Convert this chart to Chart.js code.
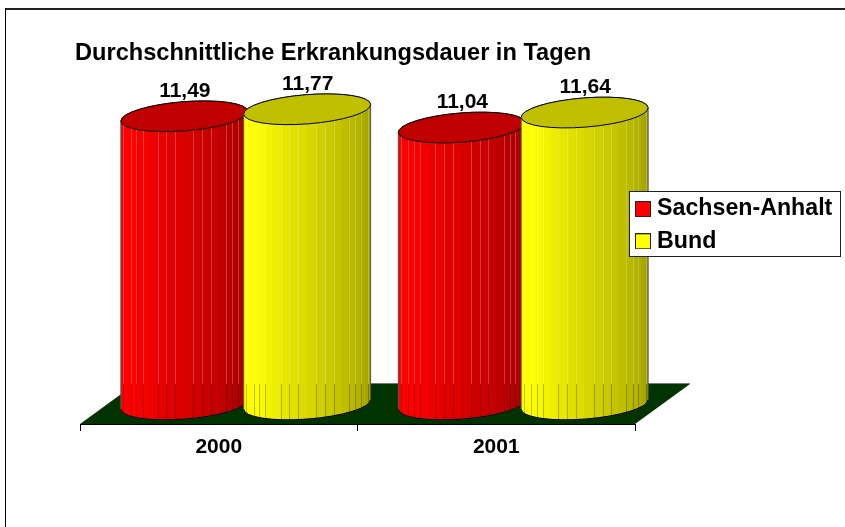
<!DOCTYPE html>
<html><head><meta charset="utf-8">
<style>html,body{margin:0;padding:0;background:#fff}canvas{display:block}</style>
<script src="https://cdn.jsdelivr.net/npm/chart.js@4"></script>
</head><body><canvas id="c" width="845" height="527"></canvas>
<script>
const categories = ['2000', '2001'];
const sachsenAnhalt = [11.49, 11.04];
const bund = [11.77, 11.64];
const chartTitle = 'Durchschnittliche Erkrankungsdauer in Tagen';
const FONT = '"Liberation Sans", Arial, sans-serif';
const DEPTH_X = 55, DEPTH_Y = 40, FACETS = 22, TILT = -4.5 * Math.PI / 180;

function rgb(hex){return [1,3,5].map(i=>parseInt(hex.substr(i,2),16));}
function shade(c,f){return 'rgb('+c.map(v=>Math.round(v*f)).join(',')+')';}

function drawCylinder(ctx, bar, color, capColor, backY){
  const cx = bar.x + DEPTH_X/2 - 0.5, rx = bar.width*1.037/2, ry = 14.6;
  const top = bar.y - DEPTH_Y/2 - 0.5, base = bar.base - DEPTH_Y/2 + 0.5;
  const t0 = Math.atan2(-ry*Math.sin(TILT), rx*Math.cos(TILT));
  const outline = () => {
    ctx.beginPath();
    ctx.ellipse(cx, base, rx, ry, TILT, t0, t0+Math.PI, false);
    ctx.ellipse(cx, top, rx, ry, TILT, t0+Math.PI, t0+2*Math.PI, false);
    ctx.closePath();
  };
  const c = rgb(color);
  ctx.save();
  outline(); ctx.clip();
  const edge = i => cx - rx*Math.cos(Math.PI*i/FACETS);
  for(let i=0;i<FACETS;i++){
    const u=(i+0.5)/FACETS, f = u<0.2?1:1-(u-0.2)*0.5;
    ctx.fillStyle = shade(c,f);
    ctx.fillRect(edge(i)-0.5, top-30, edge(i+1)-edge(i)+1, base-top+60);
  }
  for(let i=2;i<FACETS;i++){
    if(i%4===3) continue;
    const x=Math.round(edge(i))+0.5;
    ctx.lineWidth=1;
    ctx.strokeStyle='rgba(255,255,255,0.24)';
    ctx.beginPath();ctx.moveTo(x,top-30);ctx.lineTo(x,backY);ctx.stroke();
    ctx.strokeStyle='rgba(0,0,0,0.24)';
    ctx.beginPath();ctx.moveTo(x,backY);ctx.lineTo(x,base+30);ctx.stroke();
  }
  ctx.restore();
  ctx.lineWidth=1;
  ctx.strokeStyle='#555';
  outline(); ctx.stroke();
  ctx.strokeStyle='#000';
  ctx.beginPath(); ctx.ellipse(cx, base, rx, ry, TILT, t0, t0+Math.PI, false); ctx.stroke();
  ctx.beginPath(); ctx.ellipse(cx, top, rx, ry, TILT, 0, 2*Math.PI);
  ctx.fillStyle=capColor; ctx.fill(); ctx.stroke();
}

const scene = {
  id:'scene',
  beforeDraw(chart){
    const {ctx}=chart;
    ctx.save();
    ctx.fillStyle='#fff';ctx.fillRect(0,0,chart.width,chart.height);
    ctx.fillStyle='#222';
    ctx.fillRect(5,8,chart.width-5,2);
    ctx.fillStyle='#000';
    ctx.fillRect(5,8,1,chart.height-8);
    ctx.restore();
  },
  beforeDatasetsDraw(chart){
    const {ctx,chartArea:a}=chart;
    ctx.save();
    ctx.fillStyle='#003300';
    ctx.beginPath();
    ctx.moveTo(a.left,a.bottom);
    ctx.lineTo(a.left+DEPTH_X,a.bottom-DEPTH_Y);
    ctx.lineTo(a.right+DEPTH_X,a.bottom-DEPTH_Y);
    ctx.lineTo(a.right,a.bottom);
    ctx.closePath();ctx.fill();
    ctx.strokeStyle='#777';ctx.lineWidth=1;
    ctx.beginPath();
    ctx.moveTo(a.left+DEPTH_X,a.bottom-DEPTH_Y-0.5);
    ctx.lineTo(a.right+DEPTH_X,a.bottom-DEPTH_Y-0.5);
    ctx.stroke();
    ctx.restore();
    const backY=a.bottom-DEPTH_Y;
    chart.data.datasets.forEach((ds,di)=>{
      chart.getDatasetMeta(di).data.forEach(bar=>drawCylinder(ctx,bar,ds.backgroundColor,ds.capColor,backY));
    });
  },
  beforeDatasetDraw(){ return false; },
  afterDatasetsDraw(chart){
    const ctx=chart.ctx;
    ctx.save();
    ctx.font='bold 21px '+FONT;ctx.fillStyle='#000';ctx.textAlign='center';ctx.textBaseline='alphabetic';
    chart.data.datasets.forEach((ds,di)=>{
      chart.getDatasetMeta(di).data.forEach((bar,i)=>{
        const label=ds.data[i].toFixed(2).replace('.',',');
        ctx.fillText(label,bar.x+DEPTH_X/2,bar.y-DEPTH_Y/2-20);
      });
    });
    ctx.restore();
  },
  beforeUpdate(chart){
    const lg=chart.legend;
    if(lg && !lg._scenePatched){
      lg._scenePatched=true;
      lg._layers=()=>[{z:5,draw(area){
        const ctx=chart.ctx;
        ctx.save();
        ctx.fillStyle='#fff';ctx.strokeStyle='#222';ctx.lineWidth=1;
        ctx.fillRect(629.5,191.5,211,65);ctx.strokeRect(629.5,191.5,211,65);
        ctx.restore();
        lg.draw(area);
      }}];
    }
  },
  afterLayout(chart){
    const lg=chart.legend;
    lg.left=631.5;lg.top=188.5;lg.right=840;lg.bottom=300;lg.width=208.5;lg.height=111.5;
  }
};

function swatch(color){
  const s=document.createElement('canvas');s.width=16;s.height=16;
  const g=s.getContext('2d');
  g.fillStyle=color;g.fillRect(0,0,16,16);
  g.strokeStyle='#222';g.lineWidth=1;g.strokeRect(0.5,0.5,15,15);
  return s;
}

new Chart(document.getElementById('c'),{
  type:'bar',
  data:{labels:categories,datasets:[
    {label:'Sachsen-Anhalt',data:sachsenAnhalt,backgroundColor:'#ff0000',capColor:'#c00000',categoryPercentage:0.885,barPercentage:1},
    {label:'Bund',data:bund,backgroundColor:'#ffff00',capColor:'#c0c000',categoryPercentage:0.885,barPercentage:1}
  ]},
  plugins:[scene],
  options:{
    responsive:false,animation:false,events:[],
    layout:{padding:{left:75,right:210,top:0,bottom:63}},
    scales:{
      x:{
        afterFit(s){s.height=40;},
        border:{color:'#000',width:1},
        grid:{drawOnChartArea:false,drawTicks:true,tickLength:7,color:'#000'},
        ticks:{color:'#000',font:{family:FONT,size:21,weight:'bold'},padding:4,maxRotation:0}
      },
      y:{
        min:0,max:14,
        afterFit(s){s.width=5;},
        border:{display:false},
        grid:{display:false},
        ticks:{display:false}
      }
    },
    plugins:{
      tooltip:{enabled:false},
      title:{display:true,text:chartTitle,align:'start',color:'#000',
        font:{family:FONT,size:23.6,weight:'bold',lineHeight:1.2},padding:{top:39,bottom:6.7}},
      legend:{
        position:'chartArea',align:'start',
        labels:{
          color:'#000',font:{family:FONT,size:23.2,weight:'bold'},padding:9,boxWidth:5,boxHeight:16,
          usePointStyle:true,
          generateLabels(chart){
            return chart.data.datasets.map((d,i)=>({text:d.label,datasetIndex:i,fillStyle:d.backgroundColor,
              strokeStyle:'#222',lineWidth:1,hidden:false,pointStyle:swatch(d.backgroundColor),fontColor:'#000'}));
          }
        }
      }
    }
  }
});
</script></body></html>
